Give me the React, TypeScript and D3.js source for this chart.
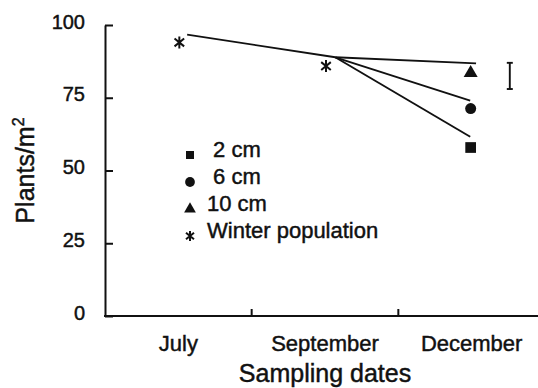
import React, { useRef, useEffect } from 'react'
import * as d3 from 'd3'

// sampling dates on the x axis
const categories = ["July", "September", "December"]
const yTicks = [0, 25, 50, 75, 100]

// winter population counts (asterisks) in July and September
const winterDates = ["July", "September"]
const winterValues = [94.0, 85.9]

// December counts per sowing depth
const depthLabels = ["2 cm", "6 cm", "10 cm"]
const decemberValues = [57.9, 71.3, 83.5]

// fitted lines: position along the date axis (0 = July, 1 = September, 2 = December) and value
const trunkPos = [0.06, 1.07]
const trunkValues = [96.7, 88.9]
const branchEndPos = [1.99, 1.99, 2.03]
const branchEndValues = [61.6, 74.0, 86.8]

// least significant difference bar at the right
const lsdPos = 2.26
const lsdLow = 78.0
const lsdHigh = 87.0

const legendLabels = [" 2 cm", " 6 cm", "10 cm", "Winter population"]
const legendShapes = ["square", "circle", "triangle", "asterisk"]

const FONT = "'Liberation Sans', Arial, sans-serif"
const INK = "#111"

const asteriskPath = (r: number) => {
  const u = r * 0.8
  const t = r * 0.65
  return `M0,${-r}L0,${r}M${-u},${-t}L${u},${t}M${-u},${t}L${u},${-t}`
}

// scanned text looks a bit heavier than regular Arial
const inkText = (sel: any, size: number) =>
  sel.attr("font-family", FONT)
    .attr("font-size", size)
    .attr("fill", INK)
    .attr("stroke", INK)
    .attr("stroke-width", 0.45)

export default function App() {
  const ref = useRef<SVGSVGElement>(null)
  const layout = { width: 538, height: 388, left: 105, right: 545, top: 25, bottom: 316 }

  useEffect(() => {
    const svg = d3.select(ref.current)
    svg.selectAll("*").remove()
    const g = svg.append("g")

    const xBand = d3.scaleBand().domain(categories).range([layout.left, layout.right]).padding(0)
    const bw = xBand.bandwidth()
    const xPos = d3.scaleLinear()
      .domain([0, categories.length - 1])
      .range([xBand(categories[0])! + bw / 2, xBand(categories[categories.length - 1])! + bw / 2])
    const y = d3.scaleLinear().domain([0, 100]).range([layout.bottom, layout.top])

    // y axis
    const yAxis = g.append("g")
      .attr("transform", `translate(${layout.left},0)`)
      .call(d3.axisLeft(y).tickValues(yTicks).tickSizeInner(-8).tickSizeOuter(0).tickPadding(20))
    yAxis.select(".domain").attr("stroke", INK).attr("stroke-width", 2)
    yAxis.selectAll(".tick line").attr("stroke", INK).attr("stroke-width", 2)
    inkText(yAxis.selectAll(".tick text"), 20).attr("dy", "0.15em")

    // x axis
    g.append("line")
      .attr("x1", layout.left - 1).attr("x2", layout.right)
      .attr("y1", y(0)).attr("y2", y(0))
      .attr("stroke", INK).attr("stroke-width", 2)
    g.selectAll(".xtick")
      .data(categories.slice(1))
      .join("line")
      .attr("class", "xtick")
      .attr("x1", d => xBand(d)!).attr("x2", d => xBand(d)!)
      .attr("y1", y(0)).attr("y2", y(0) - 7)
      .attr("stroke", INK).attr("stroke-width", 2)
    inkText(g.selectAll(".xlabel")
      .data(categories)
      .join("text")
      .attr("class", "xlabel")
      .attr("x", d => xBand(d)! + bw / 2)
      .attr("y", 351)
      .attr("text-anchor", "middle"), 22)
      .text(d => d)

    // axis titles
    inkText(g.append("text")
      .attr("x", (layout.left + layout.right) / 2)
      .attr("y", 382)
      .attr("text-anchor", "middle"), 25)
      .text("Sampling dates")
    const yTitle = inkText(g.append("text")
      .attr("transform", `translate(34,${(layout.top + layout.bottom) / 2}) rotate(-90)`)
      .attr("text-anchor", "middle"), 25)
    yTitle.append("tspan").text("Plants/m")
    yTitle.append("tspan").attr("font-size", 16).attr("dy", -10).text("2")

    // fitted lines
    const line = d3.line<[number, number]>().x(d => xPos(d[0])).y(d => y(d[1]))
    const trunk: [number, number][] = trunkPos.map((p, i) => [p, trunkValues[i]])
    g.append("path")
      .attr("d", line(trunk))
      .attr("fill", "none").attr("stroke", INK).attr("stroke-width", 1.9)
    g.selectAll(".branch")
      .data(branchEndPos.map((p, i) => [trunk[trunk.length - 1], [p, branchEndValues[i]]] as [number, number][]))
      .join("path")
      .attr("class", "branch")
      .attr("d", d => line(d))
      .attr("fill", "none").attr("stroke", INK).attr("stroke-width", 1.9)

    // December points
    const shapes = [d3.symbolSquare, d3.symbolCircle, d3.symbolTriangle]
    const sizes = [115, 95, 85]
    g.selectAll(".dec")
      .data(decemberValues)
      .join("path")
      .attr("class", "dec")
      .attr("transform", d => `translate(${xBand("December")! + bw / 2 - 1},${y(d)})`)
      .attr("d", (d, i) => d3.symbol().type(shapes[i]).size(sizes[i])())
      .attr("fill", INK)

    // winter population asterisks
    g.selectAll(".winter")
      .data(winterValues)
      .join("path")
      .attr("class", "winter")
      .attr("transform", (d, i) => `translate(${xBand(winterDates[i])! + bw / 2 + 1},${y(d)})`)
      .attr("d", asteriskPath(6))
      .attr("fill", "none").attr("stroke", INK).attr("stroke-width", 2)

    // LSD bar
    const lx = xPos(lsdPos)
    const lsd = g.append("g").attr("stroke", INK).attr("stroke-width", 1.9)
    lsd.append("line").attr("x1", lx).attr("x2", lx).attr("y1", y(lsdHigh)).attr("y2", y(lsdLow))
    lsd.append("line").attr("x1", lx - 3).attr("x2", lx + 3).attr("y1", y(lsdHigh)).attr("y2", y(lsdHigh))
    lsd.append("line").attr("x1", lx - 3).attr("x2", lx + 3).attr("y1", y(lsdLow)).attr("y2", y(lsdLow))

    // legend
    const legendX = 190
    const legendY = 157
    const legendStep = 27
    const legendSym: Record<string, any> = {
      square: d3.symbol().type(d3.symbolSquare).size(64)(),
      circle: d3.symbol().type(d3.symbolCircle).size(75)(),
      triangle: d3.symbol().type(d3.symbolTriangle).size(60)(),
      asterisk: asteriskPath(5),
    }
    const legend = g.selectAll(".legend")
      .data(legendLabels)
      .join("g")
      .attr("class", "legend")
      .attr("transform", (d, i) => `translate(0,${legendY + i * legendStep})`)
    legend.append("path")
      .attr("transform", "translate(" + legendX + ",-2)")
      .attr("d", (d, i) => legendSym[legendShapes[i]])
      .attr("fill", (d, i) => legendShapes[i] === "asterisk" ? "none" : INK)
      .attr("stroke", (d, i) => legendShapes[i] === "asterisk" ? INK : "none")
      .attr("stroke-width", 2)
    inkText(legend.append("text")
      .attr("x", legendX + 17)
      .attr("y", 0)
      .style("white-space", "pre"), 22)
      .text(d => d)
  }, [])

  return (
    <svg ref={ref} width={layout.width} height={layout.height}
      style={{ position: "absolute", left: 0, top: 0, background: "#fff" }} />
  )
}
